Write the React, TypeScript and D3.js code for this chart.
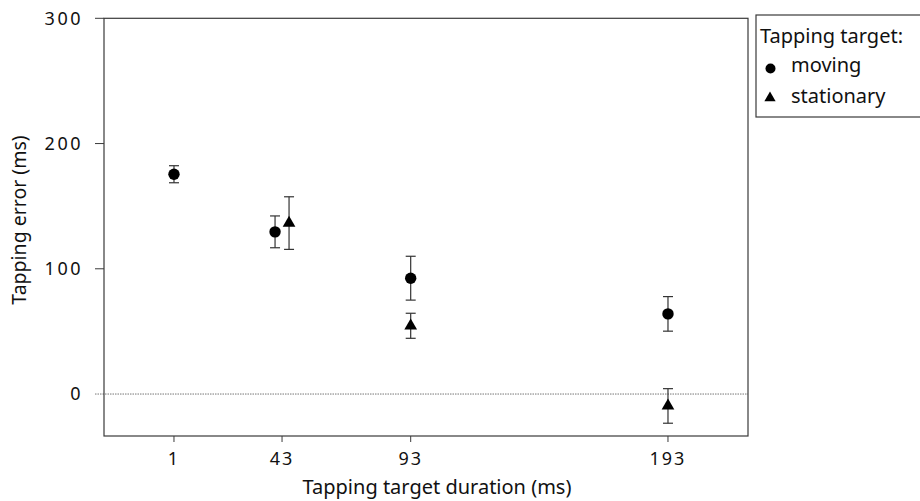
import React from "react";
import * as d3 from "d3";

const durations = [1, 43, 93, 193];
const movingMeans = [175.5, 129.5, 92.5, 64];
const movingErr = [6.8, 12.7, 17.5, 13.8];
const movingDodge = [0, -7, 0, 0];

const stationaryDurations = [43, 93, 193];
const stationaryMeans = [136.5, 54.5, -9.5];
const stationaryErr = [21, 10, 13.8];
const stationaryDodge = [7, 0, 0];

const yTicks = [0, 100, 200, 300];
const xTicks = [1, 43, 93, 193];

const W = 920;
const H = 501;
const left = 104;
const right = 748;
const top = 18.3;
const bottom = 436;

const FONT = "'Noto Sans', 'Open Sans', sans-serif";

export default function App() {
  const x = d3.scaleLinear().domain([-26.2, 224.1]).range([left, right]);
  const y = d3.scaleLinear().domain([-33.5, 300]).range([bottom, top]);
  const tri = d3.symbol().type(d3.symbolTriangle).size(70)();
  const capW = 5;
  const axisColor = "#3a3a3a";

  const moving = durations.map((d, i) => ({ d, m: movingMeans[i], e: movingErr[i], o: movingDodge[i] }));
  const stationary = stationaryDurations.map((d, i) => ({ d, m: stationaryMeans[i], e: stationaryErr[i], o: stationaryDodge[i] }));

  const errBar = (cx: number, m: number, e: number, key: string) => (
    <g key={key} stroke="#333" strokeWidth={1.2}>
      <line x1={cx} x2={cx} y1={y(m + e)} y2={y(m - e)} />
      <line x1={cx - capW} x2={cx + capW} y1={y(m + e)} y2={y(m + e)} />
      <line x1={cx - capW} x2={cx + capW} y1={y(m - e)} y2={y(m - e)} />
    </g>
  );

  return (
    <svg width={W} height={H} style={{ position: "absolute", left: 0, top: 0, background: "#fff" }} fontFamily={FONT}>
      {/* zero line */}
      <line x1={left - 9} x2={right} y1={y(0)} y2={y(0)} stroke="#777" strokeWidth={1} strokeDasharray="1.5,1" />
      {/* frame */}
      <rect x={left} y={top} width={right - left} height={bottom - top} fill="none" stroke={axisColor} strokeWidth={1.2} />
      {/* y ticks */}
      {yTicks.map((t) => (
        <g key={"yt" + t}>
          {t !== 0 && <line x1={left - 9} x2={left} y1={y(t)} y2={y(t)} stroke={axisColor} strokeWidth={1} />}
          <text x={83} y={y(t)} dy="0.35em" textAnchor="end" fontSize={18} letterSpacing={2.5} fill="#111">
            {t}
          </text>
        </g>
      ))}
      {/* x ticks */}
      {xTicks.map((t) => (
        <g key={"xt" + t}>
          <line x1={x(t)} x2={x(t)} y1={bottom} y2={bottom + 6} stroke={axisColor} strokeWidth={1} />
          <text x={x(t)} y={465} textAnchor="middle" fontSize={18} letterSpacing={2} fill="#111">
            {t}
          </text>
        </g>
      ))}
      {/* axis titles */}
      <text x={437} y={494} textAnchor="middle" fontSize={20} fill="#111">
        Tapping target duration (ms)
      </text>
      <text transform={`translate(26,220) rotate(-90)`} textAnchor="middle" fontSize={19.5} fill="#111">
        Tapping error (ms)
      </text>
      {/* moving */}
      {moving.map((p, i) => errBar(x(p.d) + p.o, p.m, p.e, "me" + i))}
      {moving.map((p, i) => (
        <circle key={"mc" + i} cx={x(p.d) + p.o} cy={y(p.m)} r={5.7} fill="#000" />
      ))}
      {/* stationary */}
      {stationary.map((p, i) => errBar(x(p.d) + p.o, p.m, p.e, "se" + i))}
      {stationary.map((p, i) => (
        <path key={"st" + i} d={tri || ""} transform={`translate(${x(p.d) + p.o},${y(p.m)})`} fill="#000" />
      ))}
      {/* legend */}
      <rect x={756} y={15} width={180} height={102} fill="#fff" stroke={axisColor} strokeWidth={1.2} />
      <text x={760} y={43} fontSize={20} fill="#111">Tapping target:</text>
      <circle cx={770.5} cy={68.5} r={5} fill="#000" />
      <text x={791} y={72} fontSize={20} fill="#111">moving</text>
      <path d={d3.symbol().type(d3.symbolTriangle).size(55)() || ""} transform="translate(770,98)" fill="#000" />
      <text x={791} y={103} fontSize={20} fill="#111">stationary</text>
    </svg>
  );
}
